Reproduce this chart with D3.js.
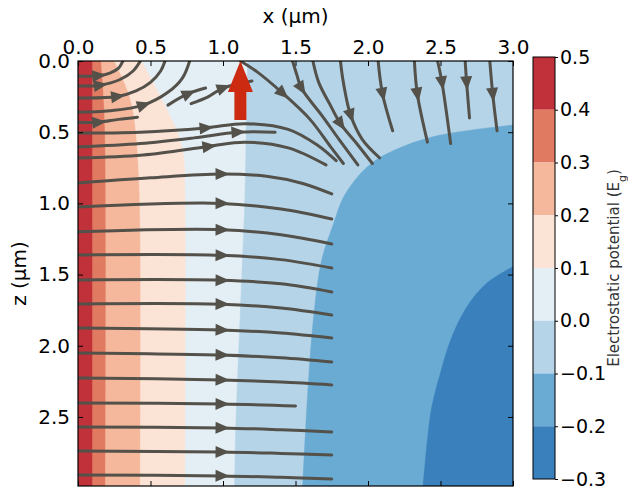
<!DOCTYPE html>
<html>
<head>
<meta charset="utf-8">
<script src="https://cdn.jsdelivr.net/npm/d3@7"></script>
<style>
  body { margin: 0; background: #fff; }
  text { font-family: "DejaVu Sans", sans-serif; fill: #000; }
</style>
</head>
<body>
<div id="chart"></div>
<script>
// contour levels (Eg) and band colours, top band first
var levels = [0.5, 0.4, 0.3, 0.2, 0.1, 0.0, -0.1, -0.2, -0.3];
var bandColors = ["#c1313a", "#e07b62", "#f5b89c", "#fbe4d6", "#e4eef5", "#b5d4e8", "#6aabd3", "#3a80bc"];

// contour boundaries, [x, z] in µm
var edge04 = [[0.1, 0], [0.1, 1.5], [0.1, 2.985]];
var edge03 = [[0.16, 0], [0.18, 0.3], [0.19, 0.7], [0.19, 2.985]];
var edge02 = [[0.25, 0], [0.32, 0.15], [0.37, 0.3], [0.4, 0.5], [0.42, 0.8], [0.43, 1.2], [0.43, 2.985]];
var edge01 = [[0.44, 0], [0.52, 0.15], [0.6, 0.31], [0.68, 0.48], [0.73, 0.66], [0.74, 0.9], [0.74, 2.985]];
var edge00 = [[1.17, 0], [1.16, 0.5], [1.15, 1.0], [1.13, 1.5], [1.11, 2.0], [1.09, 2.5], [1.08, 2.985]];
var edgeM01 = [[3.0, 0.45], [2.5, 0.52], [2.22, 0.61], [2.01, 0.73], [1.84, 0.94], [1.76, 1.15], [1.68, 1.4], [1.63, 1.75], [1.59, 2.24], [1.55, 2.985]];
var edgeM02 = [[3.0, 1.445], [2.82, 1.56], [2.68, 1.73], [2.57, 1.96], [2.5, 2.19], [2.44, 2.43], [2.41, 2.66], [2.38, 2.985]];

// streamlines, [x, z] in µm; arrow = index of the point carrying the arrow head
var streams = [
  { pts: [[0, 0.105], [0.14, 0.104], [0.22, 0.085], [0.28, 0.05], [0.31, 0]], arrow: 1 },
  { pts: [[0, 0.176], [0.15, 0.17], [0.29, 0.13], [0.38, 0.07], [0.43, 0]], arrow: 1 },
  { pts: [[0, 0.26], [0.27, 0.25], [0.4, 0.21], [0.5, 0.15], [0.57, 0.07], [0.6, 0]], arrow: 1 },
  { pts: [[0, 0.36], [0.22, 0.35], [0.45, 0.31], [0.62, 0.22], [0.72, 0.12], [0.77, 0]], arrow: 2 },
  { pts: [[0, 0.43], [0.14, 0.43], [0.28, 0.41], [0.41, 0.395]], arrow: 1 },
  { pts: [[0.62, 0.31], [0.76, 0.23], [0.88, 0.19]], arrow: 1 },
  { pts: [[0.78, 0.3], [0.9, 0.25], [1.0, 0.19], [1.2, 0.14]], arrow: 2 },
  { pts: [[0, 0.506], [0.43, 0.5], [0.88, 0.47], [1.15, 0.44], [1.45, 0.48], [1.65, 0.59], [1.78, 0.7]], arrow: 2 },
  { pts: [[0, 0.604], [0.43, 0.58], [0.8, 0.54], [1.1, 0.5], [1.36, 0.5]], arrow: 3 },
  { pts: [[0, 0.681], [0.45, 0.66], [0.9, 0.6], [1.15, 0.57], [1.45, 0.61], [1.71, 0.73]], arrow: 2 },
  { pts: [[1.12, 0], [1.24, 0.08], [1.41, 0.225], [1.6, 0.41], [1.74, 0.6], [1.83, 0.72]], arrow: 2 },
  { pts: [[1.48, 0], [1.51, 0.1], [1.54, 0.19], [1.68, 0.38], [1.8, 0.55], [1.93, 0.73]], arrow: 2 },
  { pts: [[1.62, 0], [1.66, 0.15], [1.74, 0.31], [1.81, 0.44], [1.93, 0.59], [2.03, 0.72]], arrow: 3 },
  { pts: [[1.81, 0], [1.83, 0.15], [1.88, 0.38], [1.96, 0.55], [2.08, 0.68]], arrow: 2 },
  { pts: [[2.07, 0], [2.1, 0.23], [2.17, 0.49]], arrow: 1 },
  { pts: [[2.32, 0], [2.34, 0.23], [2.41, 0.57]], arrow: 1 },
  { pts: [[2.48, 0], [2.51, 0.15], [2.57, 0.58]], arrow: 1 },
  { pts: [[2.67, 0], [2.68, 0.15], [2.7, 0.4]], arrow: 1 },
  { pts: [[2.84, 0], [2.86, 0.23], [2.89, 0.49]], arrow: 1 },
  { pts: [[0, 0.857], [0.5, 0.82], [0.99, 0.794], [1.3, 0.81], [1.55, 0.86], [1.75, 0.934]], arrow: 2 },
  { pts: [[0, 1.025], [0.99, 1.0], [1.4, 1.04], [1.75, 1.11]], arrow: 1 },
  { pts: [[0, 1.2], [0.99, 1.185], [1.4, 1.22], [1.75, 1.285]], arrow: 1 },
  { pts: [[0, 1.362], [0.99, 1.365], [1.4, 1.395], [1.75, 1.454]], arrow: 1 },
  { pts: [[0, 1.538], [0.99, 1.54], [1.4, 1.565], [1.75, 1.622]], arrow: 1 },
  { pts: [[0, 1.706], [0.99, 1.708], [1.4, 1.735], [1.75, 1.784]], arrow: 1 },
  { pts: [[0, 1.875], [0.99, 1.889], [1.4, 1.91], [1.75, 1.945]], arrow: 1 },
  { pts: [[0, 2.05], [0.99, 2.065], [1.4, 2.085], [1.75, 2.114]], arrow: 1 },
  { pts: [[0, 2.226], [0.99, 2.24], [1.4, 2.255], [1.75, 2.275]], arrow: 1 },
  { pts: [[0, 2.402], [0.99, 2.409], [1.5, 2.423]], arrow: 1 },
  { pts: [[0, 2.57], [0.99, 2.577], [1.4, 2.59], [1.75, 2.605]], arrow: 1 },
  { pts: [[0, 2.739], [0.99, 2.746], [1.4, 2.756], [1.75, 2.767]], arrow: 1 },
  { pts: [[0, 2.907], [0.99, 2.914], [1.4, 2.924], [1.75, 2.935]], arrow: 1 }
];

// the red arrow at the top surface (x position, from z to z)
var dipoleX = 1.12, dipoleFrom = 0.414, dipoleTo = 0;

var xTicks = [0, 0.5, 1.0, 1.5, 2.0, 2.5, 3.0];
var zTicks = [0, 0.5, 1.0, 1.5, 2.0, 2.5];
var xMax = 3.0, zMax = 2.985;

var W = 628, H = 499;
var svg = d3.select("#chart").append("svg")
  .attr("width", W).attr("height", H);

var x = d3.scaleLinear().domain([0, xMax]).range([78, 513]);
var z = d3.scaleLinear().domain([0, zMax]).range([61, 486]);

svg.append("clipPath").attr("id", "plotclip")
  .append("rect")
  .attr("x", x(0)).attr("y", z(0))
  .attr("width", x(xMax) - x(0)).attr("height", z(zMax) - z(0));

var plot = svg.append("g").attr("clip-path", "url(#plotclip)");

var curve = d3.line()
  .x(function(d) { return x(d[0]); })
  .y(function(d) { return z(d[1]); })
  .curve(d3.curveCatmullRom);

// background = top band
plot.append("rect")
  .attr("x", x(0)).attr("y", z(0))
  .attr("width", x(xMax) - x(0)).attr("height", z(zMax) - z(0))
  .attr("fill", bandColors[0]);

// each boundary closes toward the right/bottom side of the box
var edges = [edge04, edge03, edge02, edge01, edge00, edgeM01, edgeM02];
edges.forEach(function(e, i) {
  var d = curve(e);
  d += "L" + x(xMax) + "," + z(zMax);
  if (e[0][1] == 0) d += "L" + x(xMax) + "," + z(0);
  d += "Z";
  plot.append("path")
    .attr("d", d)
    .attr("fill", bandColors[i + 1])
    .attr("stroke", bandColors[i + 1])
    .attr("stroke-width", 0.5);
});

// streamlines
var lineColor = "#53514a";
plot.selectAll(".stream")
  .data(streams)
  .enter().append("path")
  .attr("class", "stream")
  .attr("d", function(s) { return curve(s.pts); })
  .attr("fill", "none")
  .attr("stroke", lineColor)
  .attr("stroke-width", 3)
  .attr("stroke-linecap", "round");

plot.selectAll(".head")
  .data(streams)
  .enter().append("path")
  .attr("class", "head")
  .attr("fill", lineColor)
  .attr("d", function(s) {
    var i = s.arrow, n = s.pts.length;
    var a = s.pts[Math.max(i - 1, 0)], b = s.pts[Math.min(i + 1, n - 1)], p = s.pts[i];
    var dx = x(b[0]) - x(a[0]), dy = z(b[1]) - z(a[1]);
    var len = Math.sqrt(dx * dx + dy * dy);
    var ux = dx / len, uy = dy / len;
    var px = x(p[0]), py = z(p[1]);
    var tip = [px + ux * 8, py + uy * 8];
    var bx = px - ux * 6, by = py - uy * 6;
    return "M" + tip + "L" + [bx - uy * 6, by + ux * 6] + "L" + [bx + uy * 6, by - ux * 6] + "Z";
  });

// red arrow
var ax = x(dipoleX), ay0 = z(dipoleFrom), ay1 = z(dipoleTo);
var headLen = 31, shaftHalf = 6, headHalf = 12.5;
plot.append("path")
  .attr("fill", "#cd2a12")
  .attr("d", "M" + (ax - shaftHalf) + "," + ay0 +
    "L" + (ax - shaftHalf) + "," + (ay1 + headLen) +
    "L" + (ax - headHalf) + "," + (ay1 + headLen) +
    "L" + ax + "," + ay1 +
    "L" + (ax + headHalf) + "," + (ay1 + headLen) +
    "L" + (ax + shaftHalf) + "," + (ay1 + headLen) +
    "L" + (ax + shaftHalf) + "," + ay0 + "Z");

// axes, ticks pointing inward
var fmt = d3.format(".1f");
function styleAxis(g, size) {
  g.select(".domain").remove();
  g.selectAll(".tick line").attr("stroke", "#000").attr("stroke-width", 1);
  g.selectAll(".tick text").style("font-size", (size || 20) + "px").attr("fill", "#000");
}
svg.append("g").attr("transform", "translate(0," + z(0) + ")")
  .call(d3.axisTop(x).tickValues(xTicks).tickFormat(fmt).tickSize(-5).tickPadding(7))
  .call(styleAxis);
svg.append("g").attr("transform", "translate(0," + z(zMax) + ")")
  .call(d3.axisBottom(x).tickValues(xTicks).tickFormat("").tickSize(-5))
  .call(styleAxis);
svg.append("g").attr("transform", "translate(" + x(0) + ",0)")
  .call(d3.axisLeft(z).tickValues(zTicks).tickFormat(fmt).tickSize(-5).tickPadding(8))
  .call(styleAxis);
svg.append("g").attr("transform", "translate(" + x(xMax) + ",0)")
  .call(d3.axisRight(z).tickValues(zTicks).tickFormat("").tickSize(-5))
  .call(styleAxis);

svg.append("rect")
  .attr("x", x(0)).attr("y", z(0))
  .attr("width", x(xMax) - x(0)).attr("height", z(zMax) - z(0))
  .attr("fill", "none").attr("stroke", "#000").attr("stroke-width", 1.2);

svg.append("text")
  .attr("x", (x(0) + x(xMax)) / 2).attr("y", 23)
  .attr("text-anchor", "middle")
  .style("font-size", "20px")
  .text("x (µm)");

svg.append("text")
  .attr("transform", "translate(26," + ((z(0) + z(zMax)) / 2) + ") rotate(-90)")
  .attr("text-anchor", "middle")
  .style("font-size", "20px")
  .text("z (µm)");

// colour bar
var cb = d3.scaleLinear().domain([-0.3, 0.5]).range([479, 57]);
var cbX = 533, cbW = 22;
var bands = levels.slice(0, -1).map(function(top, i) { return { top: top, bot: levels[i + 1], color: bandColors[i] }; });
svg.selectAll(".cband")
  .data(bands)
  .enter().append("rect")
  .attr("class", "cband")
  .attr("x", cbX).attr("width", cbW)
  .attr("y", function(d) { return cb(d.top); })
  .attr("height", function(d) { return cb(d.bot) - cb(d.top); })
  .attr("fill", function(d) { return d.color; });
svg.append("rect")
  .attr("x", cbX).attr("y", cb(0.5))
  .attr("width", cbW).attr("height", cb(-0.3) - cb(0.5))
  .attr("fill", "none").attr("stroke", "#000").attr("stroke-width", 1);
svg.append("g").attr("transform", "translate(" + (cbX + cbW) + ",0)")
  .call(d3.axisRight(cb).tickValues(levels).tickFormat(fmt).tickSize(3).tickPadding(2))
  .call(styleAxis, 19);

var cl = svg.append("text")
  .attr("transform", "translate(619," + ((cb(0.5) + cb(-0.3)) / 2) + ") rotate(-90)")
  .attr("text-anchor", "middle")
  .style("font-size", "15px")
  .style("fill", "#333");
cl.append("tspan").text("Electrostatic potential (E");
cl.append("tspan").attr("baseline-shift", "sub").style("font-size", "11px").text("g");
cl.append("tspan").text(")");
</script>
</body>
</html>
